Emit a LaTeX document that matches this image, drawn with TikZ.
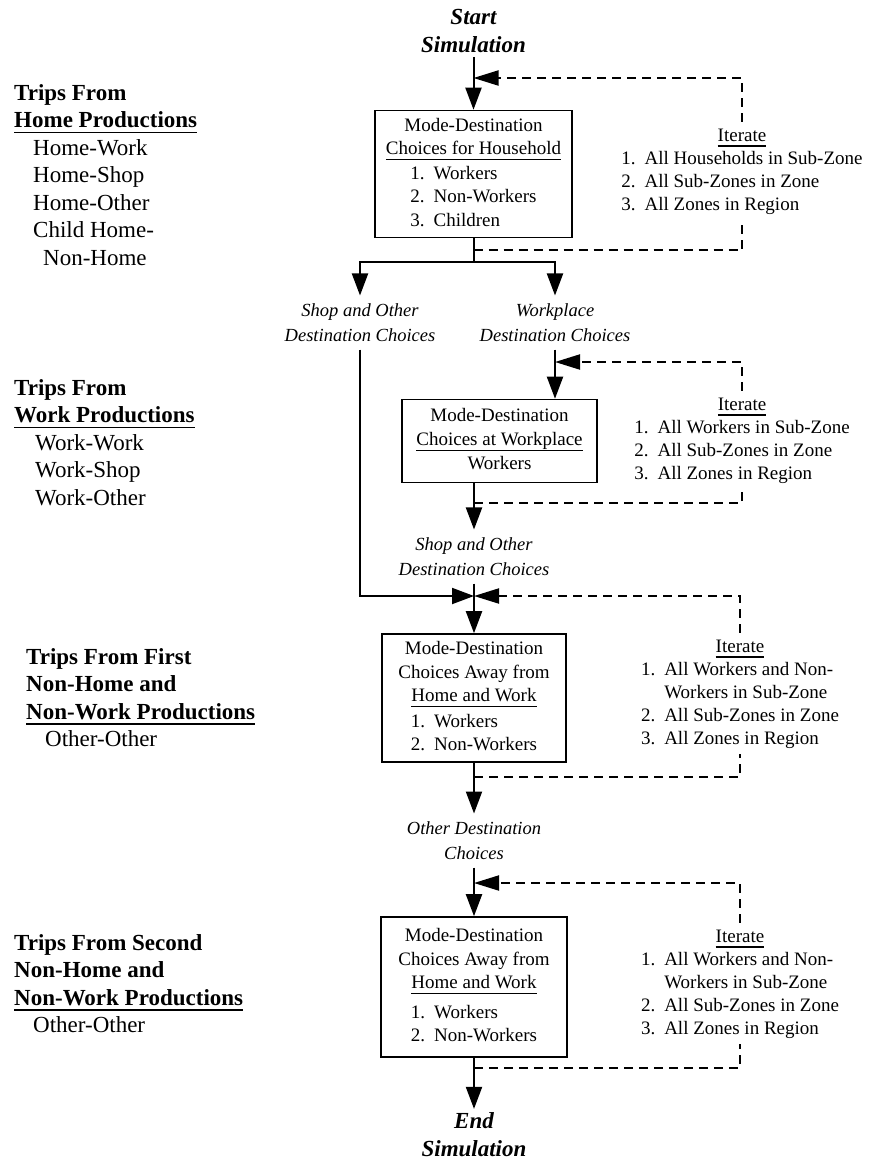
\documentclass[tikz,border=0pt]{standalone}
\usepackage{fontspec}
\setmainfont{Liberation Serif}
\usepackage{tikz}
\usetikzlibrary{arrows.meta}
\newsavebox{\undlbox}
\newcommand{\undl}[1]{\sbox\undlbox{#1}\rlap{\rule[-5.5pt]{\wd\undlbox}{1.2pt}}\usebox\undlbox}
\tikzset{
  modebox/.style={draw, line width=1.6pt, inner sep=2pt,
    font=\fontsize{19}{23.5}\selectfont},
  choice/.style={align=center, inner sep=2pt, outer sep=6pt,
    font=\fontsize{18.5}{25}\selectfont\itshape},
  terminal/.style={align=center, inner sep=0pt, outer sep=4pt,
    font=\fontsize{23}{28}\selectfont\bfseries\itshape},
  iterlist/.style={inner sep=3pt, font=\fontsize{19}{23}\selectfont},
  tripslist/.style={anchor=base west, inner sep=0pt,
    font=\fontsize{23}{27.5}\selectfont},
  flowline/.style={line width=2pt},
  flowarrow/.style={line width=2pt, -{Triangle[length=22pt,width=16pt]}},
  loopline/.style={line width=2pt, dash pattern=on 9pt off 6pt},
  looparrow/.style={loopline, -{Triangle[length=25pt,width=15pt]}}
}

\begin{document}
\begin{tikzpicture}[x=1pt, y=-1pt]
\useasboundingbox (0,0) rectangle (872,1160);

% --- Start and household choices ---
\node[terminal] (start) at (473.5,31) {Start\\Simulation};
\node[modebox, minimum width=197pt, minimum height=127pt] (hh) at (473.5,174) {\begin{tabular}{@{}c@{}}
Mode-Destination\\
\undl{Choices for Household}\\[1pt]
\begin{tabular}[t]{@{}l@{\hspace{9pt}}l@{}}1. & Workers\\ 2. & Non-Workers\\ 3. & Children\end{tabular}
\end{tabular}};
\node[iterlist] (it1) at (742,171) {\begin{tabular}{@{}r@{\hspace{9pt}}l@{}}
\multicolumn{2}{@{}c@{}}{\undl{Iterate}}\\
1. & All Households in Sub-Zone\\
2. & All Sub-Zones in Zone\\
3. & All Zones in Region
\end{tabular}};

\coordinate (li1) at (473.5,78);
\coordinate (lo1) at (473.5,250);
\coordinate (split) at (473.5,262);

\draw[flowarrow] (start) -- (hh);
\draw[looparrow] (it1.north) |- (li1);
\draw[loopline] (lo1) -| (it1.south);
\draw[flowline] (hh.south) -- (split);

% --- Branches ---
\node[choice] (shopA) at (360,322.5) {Shop and Other\\Destination Choices};
\node[choice] (wplace) at (555,322.5) {Workplace\\Destination Choices};
\draw[flowarrow] (split) -| (shopA.north);
\draw[flowarrow] (split) -| (wplace.north);

% --- Workplace choices ---
\node[modebox, minimum width=195pt, minimum height=83pt] (wk) at (499.5,441) {\begin{tabular}{@{}c@{}}
Mode-Destination\\
\undl{Choices at Workplace}\\[1pt]
Workers
\end{tabular}};
\node[iterlist] (it2) at (742,440) {\begin{tabular}{@{}r@{\hspace{9pt}}l@{}}
\multicolumn{2}{@{}c@{}}{\undl{Iterate}}\\
1. & All Workers in Sub-Zone\\
2. & All Sub-Zones in Zone\\
3. & All Zones in Region
\end{tabular}};
\node[choice] (shopB) at (474,556.5) {Shop and Other\\Destination Choices};

\coordinate (li2) at (555,362);
\coordinate (lo2) at (474,503);

\draw[flowarrow] (wplace.south) -- (wplace.south |- wk.north);
\draw[looparrow] (it2.north) |- (li2);
\draw[flowarrow] (wk.south -| shopB.north) -- (shopB.north);
\draw[loopline] (lo2) -| (it2.south);

% --- First non-home choices ---
\coordinate (join) at (474,596);
\node[modebox, minimum width=184pt, minimum height=128pt] (away1) at (474,698) {\begin{tabular}{@{}c@{}}
Mode-Destination\\
Choices Away from\\
\undl{Home and Work}\\[2pt]
\begin{tabular}[t]{@{}l@{\hspace{9pt}}l@{}}1. & Workers\\ 2. & Non-Workers\end{tabular}
\end{tabular}};
\node[iterlist] (it3) at (740,693.5) {\begin{tabular}{@{}r@{\hspace{9pt}}l@{}}
\multicolumn{2}{@{}c@{}}{\undl{Iterate}}\\
1. & All Workers and Non-\\
   & Workers in Sub-Zone\\
2. & All Sub-Zones in Zone\\
3. & All Zones in Region
\end{tabular}};
\coordinate (lo3) at (474,777);

\draw[flowarrow] (shopA.south) |- (join);
\draw[flowarrow] (shopB) -- (away1);
\draw[looparrow] (it3.north) |- (join);
\draw[loopline] (lo3) -| (it3.south);

% --- Second non-home choices ---
\node[choice] (other) at (474,840.5) {Other Destination\\Choices};
\node[modebox, minimum width=186pt, minimum height=140pt] (away2) at (474,987) {\begin{tabular}{@{}c@{}}
Mode-Destination\\
Choices Away from\\
\undl{Home and Work}\\[6pt]
\begin{tabular}[t]{@{}l@{\hspace{9pt}}l@{}}1. & Workers\\ 2. & Non-Workers\end{tabular}
\end{tabular}};
\node[iterlist] (it4) at (740,983.5) {\begin{tabular}{@{}r@{\hspace{9pt}}l@{}}
\multicolumn{2}{@{}c@{}}{\undl{Iterate}}\\
1. & All Workers and Non-\\
   & Workers in Sub-Zone\\
2. & All Sub-Zones in Zone\\
3. & All Zones in Region
\end{tabular}};
\node[terminal] (finish) at (474,1135) {End\\Simulation};

\coordinate (li4) at (474,883);
\coordinate (lo4) at (474,1068);

\draw[flowarrow] (away1) -- (other);
\draw[flowarrow] (other) -- (away2);
\draw[looparrow] (it4.north) |- (li4);
\draw[loopline] (lo4) -| (it4.south);
\draw[flowarrow] (away2) -- (finish);

% --- Trip types (left column) ---
\node[tripslist] (trips1) at (14,100) {\begin{tabular}[t]{@{}l@{}}
\textbf{Trips From}\\
\textbf{\undl{Home Productions}}\\
\hspace{19pt}Home-Work\\
\hspace{19pt}Home-Shop\\
\hspace{19pt}Home-Other\\
\hspace{19pt}Child Home-\\
\hspace{29pt}Non-Home
\end{tabular}};
\node[tripslist] (trips2) at (14,395) {\begin{tabular}[t]{@{}l@{}}
\textbf{Trips From}\\
\textbf{\undl{Work Productions}}\\
\hspace{21pt}Work-Work\\
\hspace{21pt}Work-Shop\\
\hspace{21pt}Work-Other
\end{tabular}};
\node[tripslist] (trips3) at (26,664) {\begin{tabular}[t]{@{}l@{}}
\textbf{Trips From First}\\
\textbf{Non-Home and}\\
\textbf{\undl{Non-Work Productions}}\\
\hspace{19pt}Other-Other
\end{tabular}};
\node[tripslist] (trips4) at (14,950) {\begin{tabular}[t]{@{}l@{}}
\textbf{Trips From Second}\\
\textbf{Non-Home and}\\
\textbf{\undl{Non-Work Productions}}\\
\hspace{19pt}Other-Other
\end{tabular}};

\end{tikzpicture}
\end{document}
